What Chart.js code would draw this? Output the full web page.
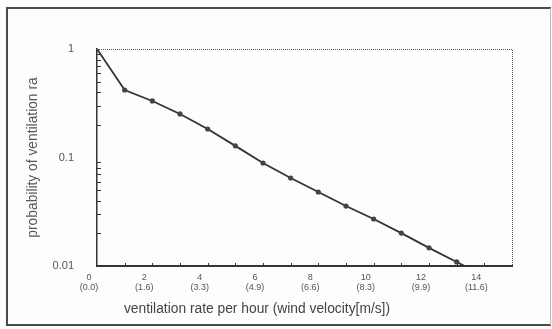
<!DOCTYPE html>
<html lang="en">
<head>
    <meta charset="UTF-8">
    <title>Ventilation probability</title>
    <script src="https://cdn.jsdelivr.net/npm/chart.js"></script>
    <style>
        body {
            margin: 0;
            background-color: #fdfdfd;
        }
        canvas {
            display: block;
        }
    </style>
</head>
<body>
    <canvas id="ventChart" width="552" height="329"></canvas>

    <script>
        // ventilation rate per hour (x) and probability of ventilation rate (y)
        const rates = [0, 1, 2, 3, 4, 5, 6, 7, 8, 9, 10, 11, 12, 13, 14];
        const probability = [1, 0.419, 0.332, 0.252, 0.183, 0.128, 0.089, 0.0647, 0.0481, 0.0357, 0.0271, 0.0201, 0.0147, 0.0109, 0.0081];
        // wind velocity shown under each even rate
        const xTickRates = [0, 2, 4, 6, 8, 10, 12, 14];
        const windLabels = ["(0.0)", "(1.6)", "(3.3)", "(4.9)", "(6.6)", "(8.3)", "(9.9)", "(11.6)"];
        const yTickValues = [1, 0.1, 0.01];

        const xTitle = "ventilation rate per hour (wind velocity[m/s])";
        const yTitle = "probability of ventilation ra";

        const points = rates.map((r, i) => ({ x: r, y: probability[i] }));
        // last point only carries the line down to the axis
        const radii = rates.map((r, i) => i === rates.length - 1 ? 0 : 2.6);

        // frame, dotted top/right edges, inward tick marks and the x title
        const decorPlugin = {
            id: "decor",
            beforeDraw(chart) {
                const ctx = chart.ctx;
                ctx.save();
                ctx.fillStyle = "#fdfdfd";
                ctx.fillRect(0, 0, chart.width, chart.height);
                ctx.strokeStyle = "#4a4a4a";
                ctx.lineWidth = 2;
                ctx.beginPath();
                ctx.moveTo(551, 8);
                ctx.lineTo(7, 8);
                ctx.lineTo(7, 325);
                ctx.lineTo(551, 325);
                ctx.stroke();
                ctx.strokeStyle = "#bbb";
                ctx.lineWidth = 1;
                ctx.beginPath();
                ctx.moveTo(550.5, 8);
                ctx.lineTo(550.5, 325);
                ctx.stroke();
                ctx.restore();
            },
            afterDraw(chart) {
                const ctx = chart.ctx;
                const area = chart.chartArea;
                const xs = chart.scales.x;
                const ys = chart.scales.y;
                ctx.save();

                ctx.strokeStyle = "#555";
                ctx.lineWidth = 1;
                ctx.setLineDash([1, 1]);
                ctx.beginPath();
                ctx.moveTo(area.left, area.top + 0.5);
                ctx.lineTo(area.right + 0.5, area.top + 0.5);
                ctx.lineTo(area.right + 0.5, area.bottom);
                ctx.stroke();
                ctx.setLineDash([]);

                ctx.strokeStyle = "#333";
                ctx.lineWidth = 1;
                ctx.beginPath();
                for (let v = 1; v < 15; v++) {
                    const px = Math.round(xs.getPixelForValue(v)) + 0.5;
                    ctx.moveTo(px, area.bottom);
                    ctx.lineTo(px, area.bottom - 3);
                }
                for (let d = 0.01; d < 1; d *= 10) {
                    for (let m = 2; m <= 9; m++) {
                        const py = Math.round(ys.getPixelForValue(d * m)) + 0.5;
                        ctx.moveTo(area.left, py);
                        ctx.lineTo(area.left + 4, py);
                    }
                }
                ctx.stroke();

                ctx.fillStyle = "#444";
                ctx.font = "13.8px 'Liberation Sans', Arial, sans-serif";
                ctx.textAlign = "center";
                ctx.textBaseline = "middle";
                ctx.fillText(xTitle, area.left + 160, 309);
                ctx.restore();
            }
        };

        new Chart(document.getElementById("ventChart").getContext("2d"), {
            type: "line",
            data: {
                datasets: [{
                    data: points,
                    borderColor: "#333",
                    borderWidth: 1.8,
                    pointRadius: radii,
                    pointBackgroundColor: "#444",
                    pointBorderColor: "#444",
                    pointBorderWidth: 0,
                    tension: 0,
                    clip: 0
                }]
            },
            options: {
                responsive: false,
                animation: false,
                layout: { padding: { left: 0, top: 49, right: 40, bottom: 0 } },
                plugins: {
                    legend: { display: false },
                    tooltip: { enabled: false }
                },
                scales: {
                    x: {
                        type: "linear",
                        min: 0,
                        max: 15,
                        grid: { display: false, drawTicks: false },
                        border: { display: true, color: "#333", width: 2 },
                        afterFit: scale => { scale.height = 63; },
                        afterBuildTicks: scale => {
                            scale.ticks = xTickRates.map(v => ({ value: v }));
                        },
                        ticks: {
                            autoSkip: false,
                            maxRotation: 0,
                            padding: 6,
                            labelOffset: -8,
                            color: "#555",
                            font: { size: 9, family: "'Liberation Sans', Arial, sans-serif", lineHeight: 1.15 },
                            callback: value => [String(value), windLabels[xTickRates.indexOf(value)]]
                        }
                    },
                    y: {
                        type: "logarithmic",
                        min: 0.01,
                        max: 1,
                        grid: { display: false, drawTicks: false },
                        border: { display: true, color: "#333", width: 1.5 },
                        afterFit: scale => { scale.width = 97; },
                        afterBuildTicks: scale => {
                            scale.ticks = yTickValues.map(v => ({ value: v }));
                        },
                        ticks: {
                            padding: 23,
                            color: "#555",
                            font: { size: 11, family: "'Liberation Sans', Arial, sans-serif" },
                            callback: value => String(value)
                        },
                        title: {
                            display: true,
                            text: yTitle,
                            color: "#555",
                            font: { size: 13.8, family: "'Liberation Sans', Arial, sans-serif" },
                            padding: { top: 25, bottom: 0 }
                        }
                    }
                }
            },
            plugins: [decorPlugin]
        });
    </script>
</body>
</html>
